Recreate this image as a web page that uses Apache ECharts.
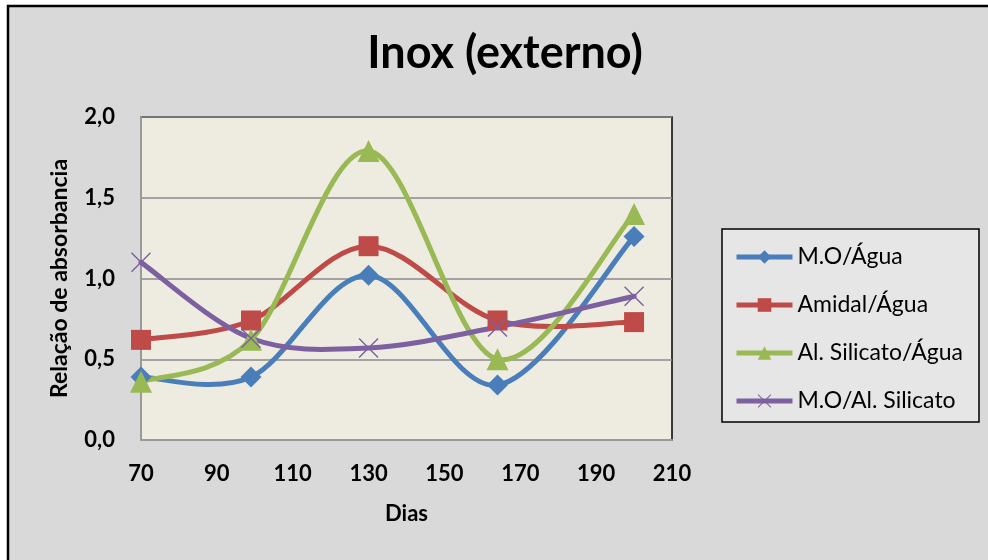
<!DOCTYPE html>
<html>
<head>
<meta charset="utf-8">
<script src="https://cdn.jsdelivr.net/npm/echarts@6/dist/echarts.min.js"></script>
<style>
  html, body { margin: 0; padding: 0; background: #ffffff; }
  #chart { width: 988px; height: 560px; }
</style>
</head>
<body>
<div id="chart"></div>
<script>
// Days sampled
const dias = [70, 99, 130, 164, 200];

// Absorbance ratio per treatment
const moAgua = [0.39, 0.39, 1.02, 0.34, 1.26];
const amidalAgua = [0.62, 0.74, 1.20, 0.74, 0.73];
const silicatoAgua = [0.36, 0.62, 1.79, 0.50, 1.40];
const moSilicato = [1.10, 0.63, 0.57, 0.70, 0.89];

const seriesNames = ['M.O/Água', 'Amidal/Água', 'Al. Silicato/Água', 'M.O/Al. Silicato'];
const seriesColors = ['#4a7ebb', '#be4b48', '#98b954', '#7d60a0'];
const seriesValues = [moAgua, amidalAgua, silicatoAgua, moSilicato];
const seriesSymbols = ['diamond', 'rect', 'triangle',
  // thin "x" marker
  'path://M0,1L1,0L10,9L19,0L20,1L11,10L20,19L19,20L10,11L1,20L0,19L9,10Z'];
const seriesSymbolSizes = [21, 20, 22, 20];

const fmt = v => v.toFixed(1).replace('.', ',');
const pairs = arr => dias.map((d, i) => [d, arr[i]]);

const font = 'Lato, "Open Sans", sans-serif';

// Catmull-Rom style cubic curve through the points, computed in pixel space
function smoothPath(pts) {
  const n = pts.length;
  const P = i => pts[Math.max(0, Math.min(n - 1, i))];
  let d = 'M' + pts[0][0] + ',' + pts[0][1];
  for (let i = 0; i < n - 1; i++) {
    const p0 = P(i - 1), p1 = P(i), p2 = P(i + 1), p3 = P(i + 2);
    const c1x = p1[0] + (p2[0] - p0[0]) / 6, c1y = p1[1] + (p2[1] - p0[1]) / 6;
    const c2x = p2[0] - (p3[0] - p1[0]) / 6, c2y = p2[1] - (p3[1] - p1[1]) / 6;
    d += 'C' + c1x + ',' + c1y + ',' + c2x + ',' + c2y + ',' + p2[0] + ',' + p2[1];
  }
  return d;
}

const series = [];
seriesValues.forEach((vals, k) => {
  const color = seriesColors[k];
  // smooth curve
  series.push({
    name: 'curva' + k,
    type: 'custom',
    data: [[dias[0], vals[0]]],
    encode: { x: 0, y: 1 },
    silent: true,
    z: 3,
    renderItem: function (params, api) {
      const pts = dias.map((d, i) => api.coord([d, vals[i]]));
      return {
        type: 'path',
        shape: { pathData: smoothPath(pts) },
        style: { stroke: color, lineWidth: 5, fill: 'none', lineJoin: 'round', lineCap: 'round' }
      };
    }
  });
  // markers
  series.push({
    name: seriesNames[k],
    type: 'line',
    data: pairs(vals),
    color: color,
    lineStyle: { width: 5, color: color, opacity: 0 },
    itemStyle: { color: color },
    symbol: seriesSymbols[k],
    symbolSize: seriesSymbolSizes[k],
    z: 3
  });
});

const chart = echarts.init(document.getElementById('chart'), null, { renderer: 'canvas' });
chart.setOption({
  backgroundColor: '#ffffff',
  animation: false,
  graphic: [
    {
      type: 'rect', z: -10, silent: true,
      shape: { x: 8, y: 6, width: 1000, height: 600 },
      style: { fill: '#d9d9d9', stroke: '#000000', lineWidth: 2.5 }
    },
    {
      type: 'rect', z: -5, silent: true,
      shape: { x: 722, y: 229, width: 257, height: 193 },
      style: { fill: '#e6e6e6', stroke: '#000000', lineWidth: 1.5 }
    }
  ],
  title: {
    text: 'Inox (externo)',
    left: 500, top: 26,
    textAlign: 'center',
    textStyle: { fontFamily: font, fontWeight: 'bold', fontSize: 45, color: '#000' }
  },
  legend: {
    orient: 'vertical',
    left: 729, top: 240,
    itemWidth: 56, itemHeight: 17,
    itemGap: 24,
    data: seriesNames,
    lineStyle: { width: 5, opacity: 1 },
    textStyle: { fontFamily: font, fontSize: 23, color: '#000', lineHeight: 24 }
  },
  grid: {
    left: 141, right: 316, top: 117, bottom: 120,
    show: true,
    backgroundColor: '#eeece1',
    borderColor: '#000000',
    borderWidth: 1.5
  },
  xAxis: {
    type: 'value',
    min: 70, max: 210, interval: 20,
    name: 'Dias',
    nameLocation: 'middle',
    nameGap: 63,
    nameTextStyle: { fontFamily: font, fontWeight: 'bold', fontSize: 22, color: '#000' },
    axisLine: { show: true, onZero: false, lineStyle: { color: '#9a9a9a', width: 2 } },
    axisTick: { show: false },
    splitLine: { show: false },
    axisLabel: { fontFamily: font, fontWeight: 'bold', fontSize: 22, color: '#000', margin: 23 }
  },
  yAxis: {
    type: 'value',
    min: 0, max: 2, interval: 0.5,
    name: 'Relação de absorbancia',
    nameLocation: 'middle',
    nameGap: 70,
    nameTextStyle: { fontFamily: font, fontWeight: 'bold', fontSize: 23, color: '#000' },
    axisLine: { show: true, lineStyle: { color: '#9a9a9a', width: 2 } },
    axisTick: { show: false },
    splitLine: { show: true, lineStyle: { color: '#8a8a8a', width: 1.5 } },
    axisLabel: { fontFamily: font, fontWeight: 'bold', fontSize: 22, color: '#000', margin: 26, formatter: fmt }
  },
  series: series
});
</script>
</body>
</html>
